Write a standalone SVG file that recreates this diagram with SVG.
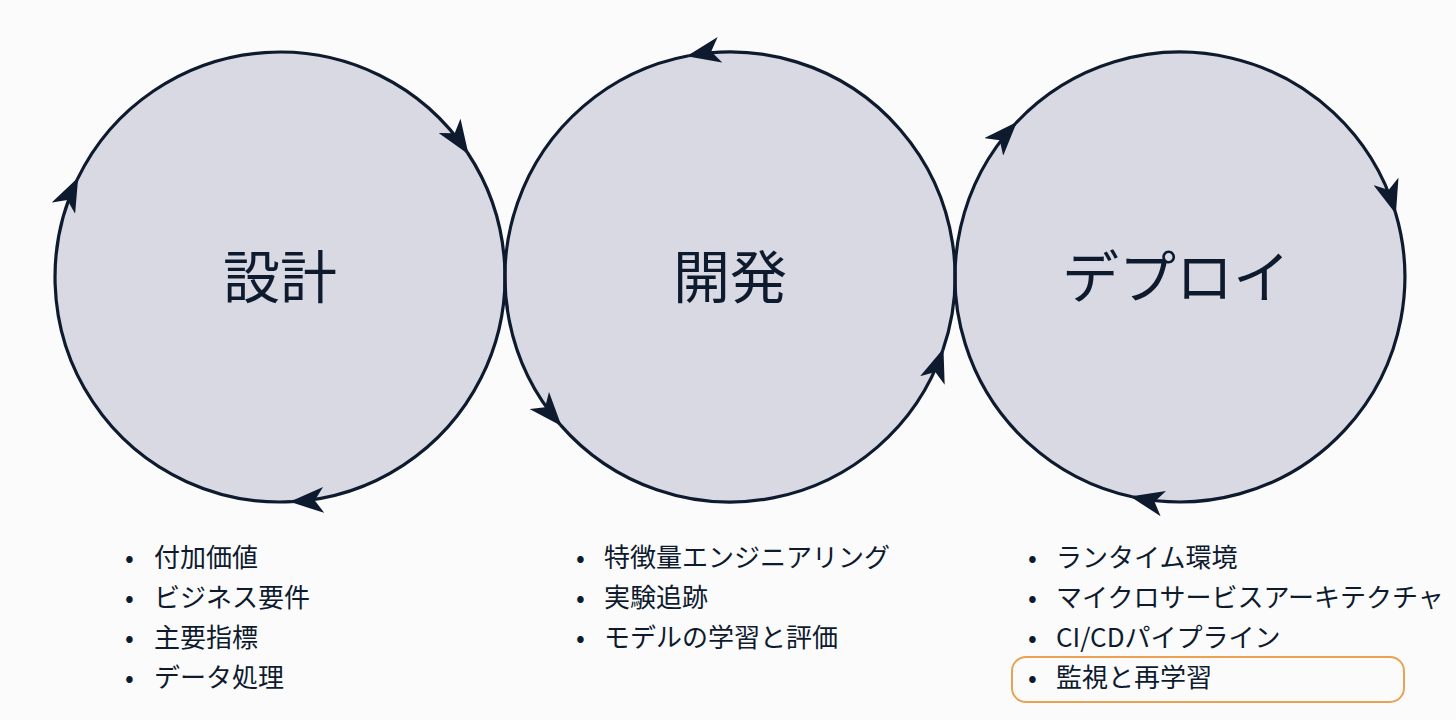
<svg xmlns="http://www.w3.org/2000/svg" width="1456" height="720" viewBox="0 0 1456 720">
<style>
.c{fill:#d9d9e3;stroke:none}
.a{fill:none;stroke:#0e1a2e;stroke-width:3.2}
.t{font-family:"Noto Sans CJK JP","Noto Sans",sans-serif;fill:#0e1a2e}
.h{font-size:57px;text-anchor:middle}
.l{font-size:26px}
</style>
<defs>
<marker id="ah" viewBox="0 0 34 26" refX="32" refY="13" markerWidth="34" markerHeight="26" markerUnits="userSpaceOnUse" orient="auto">
<path d="M0,0 L34,13 L0,26 L9,13 Z" fill="#0e1a2e"/>
</marker>
</defs>
<rect width="1456" height="720" fill="#fbfbfb"/>
<g id="node-design">
<circle class="c" cx="280" cy="277" r="225"/>
<text class="t h" x="280" y="298">設計</text>
</g>
<g id="node-dev">
<circle class="c" cx="730" cy="277" r="225"/>
<text class="t h" x="730" y="298">開発</text>
</g>
<g id="node-deploy">
<circle class="c" cx="1180" cy="277" r="225"/>
<text class="t h" x="1176" y="298">デプロイ</text>
</g>
<g id="connectors">
<path class="a" marker-end="url(#ah)" d="M77.3,179.4 A225,225 0 0 1 467.4,152.5"/>
<path class="a" marker-end="url(#ah)" d="M467.4,152.5 A225,225 0 0 1 291.8,501.7"/>
<path class="a" marker-end="url(#ah)" d="M291.8,501.7 A225,225 0 0 1 77.3,179.4"/>
<path class="a" marker-end="url(#ah)" d="M942.8,350.3 A225,225 0 0 0 688.6,55.8"/>
<path class="a" marker-end="url(#ah)" d="M688.6,55.8 A225,225 0 0 0 560.2,424.6"/>
<path class="a" marker-end="url(#ah)" d="M560.2,424.6 A225,225 0 0 0 942.8,350.3"/>
<path class="a" marker-end="url(#ah)" d="M1132.1,496.8 A225,225 0 0 1 1015.5,123.5"/>
<path class="a" marker-end="url(#ah)" d="M1015.5,123.5 A225,225 0 0 1 1395.3,212"/>
<path class="a" marker-end="url(#ah)" d="M1395.3,212 A225,225 0 0 1 1132.1,496.8"/>
</g>
<g id="list-design" class="t l">
<text x="125" y="567">•</text><text x="154" y="567">付加価値</text>
<text x="125" y="607">•</text><text x="154" y="607">ビジネス要件</text>
<text x="125" y="647">•</text><text x="154" y="647">主要指標</text>
<text x="125" y="687">•</text><text x="154" y="687">データ処理</text>
</g>
<g id="list-dev" class="t l">
<text x="576" y="567">•</text><text x="604" y="567">特徴量エンジニアリング</text>
<text x="576" y="607">•</text><text x="604" y="607">実験追跡</text>
<text x="576" y="647">•</text><text x="604" y="647">モデルの学習と評価</text>
</g>
<g id="list-deploy" class="t l">
<rect x="1012" y="657" width="392" height="45" rx="14" fill="none" stroke="#eaa252" stroke-width="2"/>
<text x="1028" y="567">•</text><text x="1056" y="567">ランタイム環境</text>
<text x="1028" y="607">•</text><text x="1056" y="607">マイクロサービスアーキテクチャ</text>
<text x="1028" y="647">•</text><text x="1056" y="647">CI/CDパイプライン</text>
<text x="1028" y="687">•</text><text x="1056" y="687">監視と再学習</text>
</g>
</svg>
